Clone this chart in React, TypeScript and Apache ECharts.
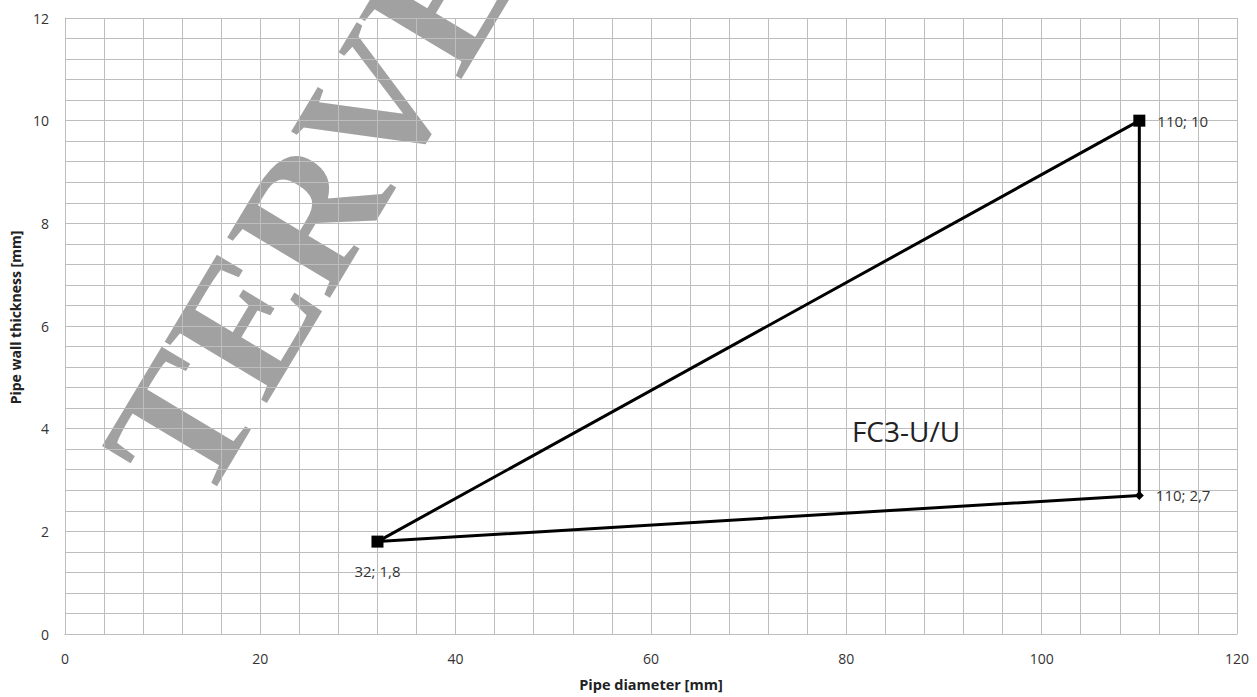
import React, { useEffect, useRef } from "react";
import * as echarts from "echarts";

const seriesName = "FC3-U/U";
const pipeDiameter = [32, 110, 110, 32];
const wallThickness = [1.8, 10, 2.7, 1.8];
const pointSymbols = ["rect", "rect", "diamond", "none"];
const labelPositions = ["bottom", "right", "right", "none"];
const xTitle = "Pipe diameter [mm]";
const yTitle = "Pipe wall thickness [mm]";
const watermark = "TERVEZET";

const fmt = (v: number) => String(v).replace(".", ",");

export default function App() {
  const ref = useRef<HTMLDivElement>(null);
  useEffect(() => {
    if (!ref.current) return;
    const chart = echarts.init(ref.current, null, { renderer: "svg" });
    const data = pipeDiameter.map((x, i) => {
      const sym = pointSymbols[i];
      const pos = labelPositions[i];
      return {
        value: [x, wallThickness[i]],
        symbol: sym,
        symbolSize: sym === "rect" ? 12 : sym === "diamond" ? 9 : 0,
        label: {
          show: pos !== "none",
          position: pos,
          distance: pos === "bottom" ? 16 : 12,
          formatter: () => `${fmt(x)}; ${fmt(wallThickness[i])}`,
        },
      };
    });
    const gridColor = "#bdbdbd";
    chart.setOption({
      animation: false,
      backgroundColor: "#ffffff",
      grid: { left: 63, right: 20, top: 18, bottom: 60 },
      xAxis: {
        type: "value",
        min: 0,
        max: 120,
        interval: 20,
        name: xTitle,
        nameLocation: "middle",
        nameGap: 43,
        nameTextStyle: { fontWeight: "bold", fontSize: 14.5, color: "#222", fontFamily: "Open Sans" },
        axisLine: { show: true, lineStyle: { color: gridColor } },
        axisTick: { show: false },
        axisLabel: { margin: 17, fontSize: 14, color: "#333", fontFamily: "Open Sans" },
        splitLine: { show: true, lineStyle: { color: gridColor, width: 1 } },
        minorTick: { show: false, splitNumber: 5 },
        minorSplitLine: { show: true, lineStyle: { color: gridColor, width: 1 } },
      },
      yAxis: {
        type: "value",
        min: 0,
        max: 12,
        interval: 2,
        name: yTitle,
        nameLocation: "middle",
        nameGap: 42,
        nameTextStyle: {
          fontWeight: "bold",
          fontSize: 14,
          color: "#222",
          fontFamily: "Open Sans",
          padding: [0, 0, 0, 17],
        },
        axisLine: { show: true, lineStyle: { color: gridColor } },
        axisTick: { show: false },
        axisLabel: { margin: 16, fontSize: 14, color: "#333", fontFamily: "Open Sans" },
        splitLine: { show: true, lineStyle: { color: gridColor, width: 1 } },
        minorTick: { show: false, splitNumber: 5 },
        minorSplitLine: { show: true, lineStyle: { color: gridColor, width: 1 } },
      },
      graphic: [
        {
          type: "text",
          x: 150,
          y: 478,
          rotation: (59 * Math.PI) / 180,
          z: 0,
          silent: true,
          style: {
            text: watermark,
            font: "bold 182px 'Liberation Serif', 'DejaVu Serif', serif",
            fill: "rgba(125,125,125,0.72)",
            textAlign: "left",
            textVerticalAlign: "middle",
          },
        },
        {
          type: "text",
          x: 906,
          y: 431,
          z: 10,
          style: {
            text: seriesName,
            font: "28px 'Open Sans', sans-serif",
            fill: "#222",
            textAlign: "center",
            textVerticalAlign: "middle",
          },
        },
      ],
      series: [
        {
          name: seriesName,
          type: "line",
          data,
          lineStyle: { color: "#000", width: 3 },
          itemStyle: { color: "#000" },
          label: { color: "#333", fontSize: 15, fontFamily: "Open Sans" },
          z: 5,
        },
      ],
    });
    return () => chart.dispose();
  }, []);
  return (
    <div
      ref={ref}
      style={{ position: "absolute", left: 0, top: 0, width: 1257, height: 697 }}
    />
  );
}
